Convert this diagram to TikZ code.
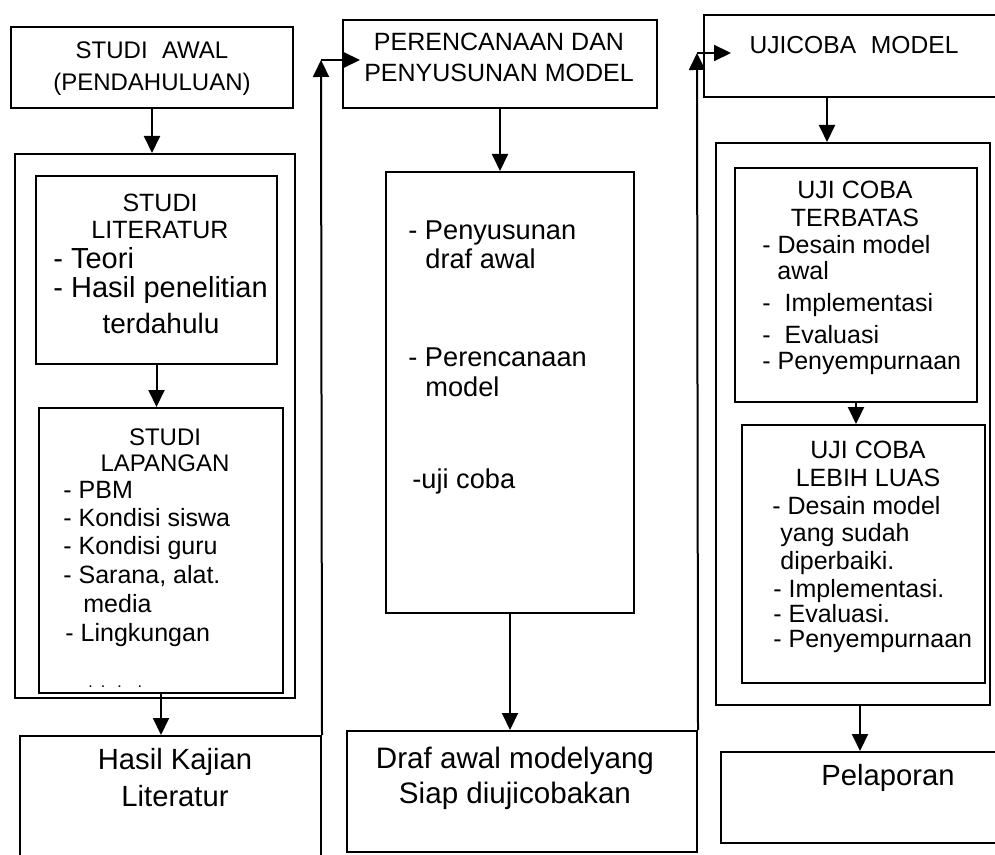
\documentclass[tikz,border=0pt]{standalone}
\usepackage{fontspec}
\setmainfont{Liberation Sans}
\usetikzlibrary{arrows.meta}

\tikzset{
	kotak/.style={draw, line width=1pt, inner sep=0pt},
	kepala/.style={inner sep=0pt, align=center, font=\fontsize{12.5}{14}\selectfont},
	butir/.style={inner sep=0pt, anchor=west, text height=9pt, text depth=2.5pt, font=\fontsize{12.5}{14}\selectfont},
	besar/.style={inner sep=0pt, align=center, font=\fontsize{14.6}{18.5}\selectfont},
	panah/.style={line width=1pt, -{Triangle[width=8pt,length=8.5pt]}}
}

\begin{document}
\begin{tikzpicture}[x=0.5pt, y=-0.5pt]
	\useasboundingbox (0,0) rectangle (995,855);
	\clip (0,0) rectangle (995,855);

	% kolom kiri: studi awal
	\node[kotak, minimum width=141pt, minimum height=40.5pt] (awal) at (152,67.5) {};
	\node[kepala, font=\fontsize{12}{16}\selectfont] (tawal) at (152,69) {STUDI\hspace{0.6em}AWAL\\(PENDAHULUAN)};
	\node[kotak, minimum width=140pt, minimum height=272pt] (luar1) at (155,426) {};
	\node[kotak, minimum width=120.5pt, minimum height=94pt] (literatur) at (156.5,270) {};
	\node[kepala, font=\fontsize{12.5}{13.5}\selectfont] (tliteratur) at (160,216) {STUDI\\LITERATUR};
	\node[butir, font=\fontsize{14.5}{16}\selectfont] (teori) at (53,262) {- Teori};
	\node[butir, font=\fontsize{14.5}{16}\selectfont] (hasilpen) at (53,291) {- Hasil penelitian};
	\node[besar, font=\fontsize{14}{16}\selectfont] (dahulu) at (161,323) {terdahulu};
	\node[kotak, minimum width=122pt, minimum height=142.5pt] (lapangan) at (161,550.5) {};
	\node[kepala, font=\fontsize{12}{13}\selectfont] (tlapangan) at (165,450) {STUDI\\LAPANGAN};
	\node[butir] (pbm) at (63,492) {- PBM};
	\node[butir] (siswa) at (63,520) {- Kondisi siswa};
	\node[butir] (guru) at (63,548) {- Kondisi guru};
	\node[butir] (sarana) at (63,577) {- Sarana, alat.};
	\node[butir] (media) at (83,606) {media};
	\node[butir] (lingkungan) at (65,635) {- Lingkungan};
	\node[butir, font=\fontsize{8}{9}\selectfont] (titik) at (88,681) {.\hspace{4pt}.\hspace{6pt}.\hspace{8pt}.};
	\node[kotak, minimum width=150.5pt, minimum height=62pt] (hasil) at (170.5,798) {};
	\node[besar] (thasil) at (175,778) {Hasil Kajian\\Literatur};

	\draw[panah] (awal.south) -- (awal.south |- luar1.north);
	\draw[panah] (literatur.south) -- (literatur.south |- lapangan.north);
	\draw[panah] (lapangan.south) -- (lapangan.south |- hasil.north);

	% kolom tengah: perencanaan
	\node[kotak, minimum width=157pt, minimum height=44pt] (perencanaan) at (500,64) {};
	\node[kepala, font=\fontsize{12.5}{15.5}\selectfont] (tperencanaan) at (499,57) {PERENCANAAN DAN\\PENYUSUNAN MODEL};
	\node[kotak, minimum width=124pt, minimum height=220.5pt] (rancangan) at (510,392.5) {};
	\node[butir, font=\fontsize{13.6}{16}\selectfont] (susun) at (408,233) {- Penyusunan};
	\node[butir, font=\fontsize{13.6}{16}\selectfont] (drafawal) at (425,262) {draf awal};
	\node[butir, font=\fontsize{13.6}{16}\selectfont] (rencana) at (408,360) {- Perencanaan};
	\node[butir, font=\fontsize{13.6}{16}\selectfont] (model) at (425,390) {model};
	\node[butir, font=\fontsize{13.6}{16}\selectfont] (ujicob) at (412,482) {-uji coba};
	\node[kotak, minimum width=175pt, minimum height=60.5pt] (draf) at (522,791.5) {};
	\node[besar, font=\fontsize{14.8}{17.5}\selectfont] (tdraf) at (515,778) {Draf awal modelyang\\Siap diujicobakan};

	\draw[panah] (perencanaan.south) -- (perencanaan.south |- rancangan.north);
	\draw[panah] (rancangan.south) -- (rancangan.south |- draf.north);

	% kolom kanan: ujicoba
	\node[kotak, minimum width=153pt, minimum height=41pt] (ujicoba) at (857,56) {};
	\node[kepala, font=\fontsize{12.3}{14}\selectfont] (tujicoba) at (854,45) {UJICOBA\hspace{0.6em}MODEL};
	\node[kotak, minimum width=137pt, minimum height=281pt] (luar3) at (853,424) {};
	\node[kotak, minimum width=121pt, minimum height=117pt] (terbatas) at (856,285) {};
	\node[kepala] (tterbatas) at (855,204) {UJI COBA\\TERBATAS};
	\node[butir] (desain1) at (762,247) {- Desain model};
	\node[butir] (awal1) at (777,273) {awal};
	\node[butir] (impl1) at (762,305) {-\ \ Implementasi};
	\node[butir] (eval1) at (762,337) {-\ \ Evaluasi};
	\node[butir] (sempurna1) at (762,363) {- Penyempurnaan};
	\node[kotak, minimum width=121.5pt, minimum height=129pt] (lebih) at (863.5,554) {};
	\node[kepala] (tlebih) at (868,464) {UJI COBA\\LEBIH LUAS};
	\node[butir] (desain2) at (772,508) {- Desain model};
	\node[butir] (sudah) at (780,535) {yang sudah};
	\node[butir] (baiki) at (780,563) {diperbaiki.};
	\node[butir] (impl2) at (773,591) {- Implementasi.};
	\node[butir] (eval2) at (773,616) {- Evaluasi.};
	\node[butir] (sempurna2) at (773,641) {- Penyempurnaan};
	\node[kotak, minimum width=144.5pt, minimum height=45.5pt] (pelaporan) at (865.5,797.5) {};
	\node[besar] (tpelaporan) at (888,778) {Pelaporan};

	\draw[panah] ([xshift=-15pt]ujicoba.south) -- ([xshift=-15pt]ujicoba.south |- luar3.north);
	\draw[panah] (terbatas.south) -- (terbatas.south |- lebih.north);
	\draw[panah] ([xshift=3.5pt]luar3.south) -- ([xshift=3.5pt]luar3.south |- pelaporan.north);

	% garis balik ke atas
	\coordinate (balik1) at (321,60);
	\coordinate (balik2) at (697,53);
	\draw[panah] (hasil.north east) -- (balik1);
	\draw[panah] (balik1) -- ([xshift=9pt]balik1 -| perencanaan.west);
	\draw[panah] (draf.north east) -- (balik2);
	\draw[panah] (balik2) -- ([xshift=14pt]balik2 -| ujicoba.west);
\end{tikzpicture}
\end{document}
